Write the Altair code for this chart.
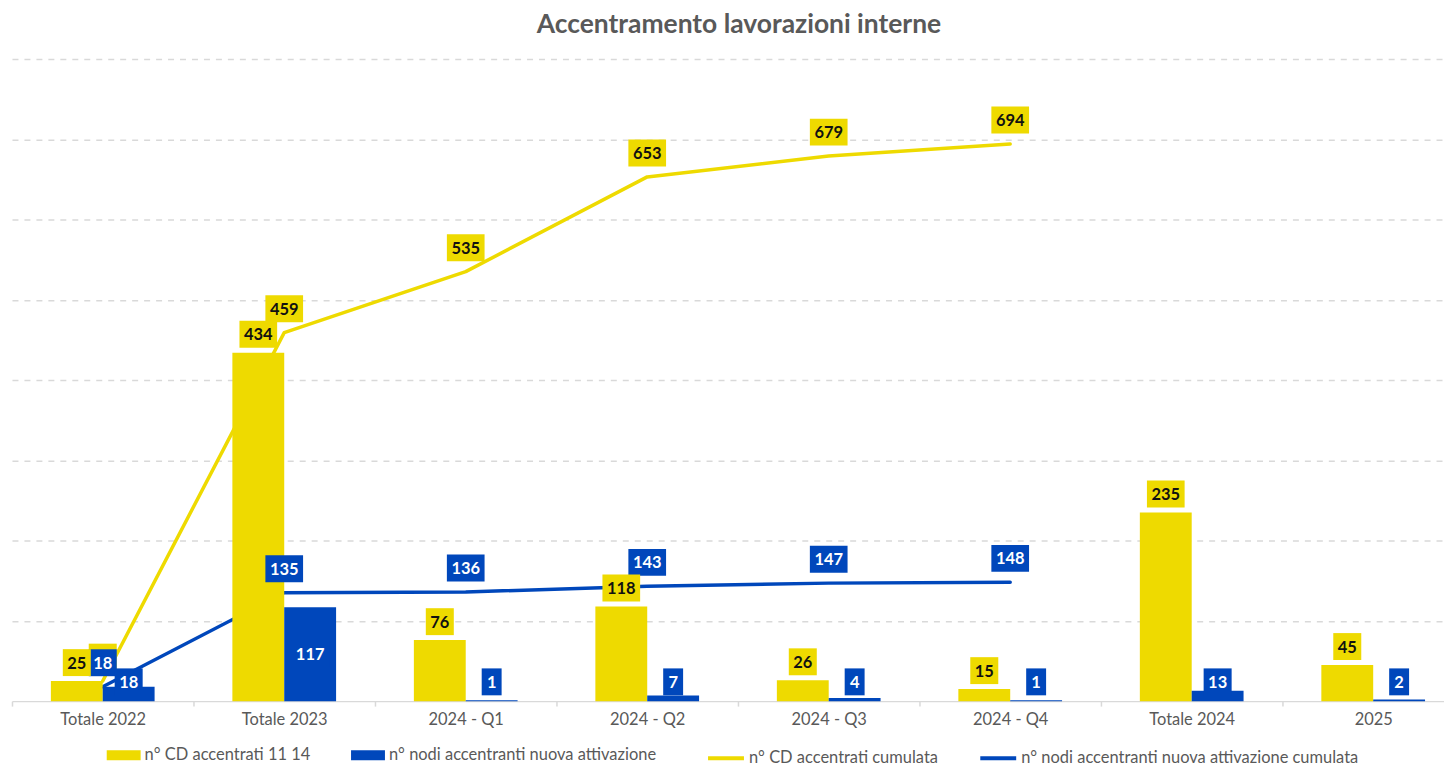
import altair as alt
import pandas as pd

# ---------------- data ----------------
categories = ["Totale 2022", "Totale 2023", "2024 - Q1", "2024 - Q2",
              "2024 - Q3", "2024 - Q4", "Totale 2024", "2025"]
cd_accentrati = [25, 434, 76, 118, 26, 15, 235, 45]
nodi_nuovi = [18, 117, 1, 7, 4, 1, 13, 2]
cd_cumulata = [25, 459, 535, 653, 679, 694, None, None]
nodi_cumulata = [18, 135, 136, 143, 147, 148, None, None]

S_BAR1 = "n° CD accentrati 11 14"
S_BAR2 = "n° nodi accentranti nuova attivazione"
S_LIN1 = "n° CD accentrati cumulata"
S_LIN2 = "n° nodi accentranti nuova attivazione cumulata"
bar_series = [S_BAR1, S_BAR2]
line_series = [S_LIN1, S_LIN2]

YEL = "#EEDA00"
BLU = "#0047BB"
GRAY = "#595959"
FONT = "Lato"


def long_df(values, series):
    rows = [{"cat": c, "series": series, "value": v}
            for c, v in zip(categories, values) if v is not None]
    return pd.DataFrame(rows)


bar1 = long_df(cd_accentrati, S_BAR1)
bar2 = long_df(nodi_nuovi, S_BAR2)
bars_df = pd.concat([bar1, bar2], ignore_index=True)
lin1 = long_df(cd_cumulata, S_LIN1)
lin2 = long_df(nodi_cumulata, S_LIN2)
lines_df = pd.concat([lin1, lin2], ignore_index=True)

# ---------------- scales / axes ----------------
xscale = alt.Scale(domain=categories, range=[0, 1456], paddingInner=0, paddingOuter=0)
yscale = alt.Scale(domain=[0, 800], nice=False)
xoff_scale = alt.Scale(domain=bar_series, paddingInner=0, paddingOuter=0.75)

xaxis = alt.Axis(title=None, labelFont=FONT, labelFontSize=16.5, labelColor=GRAY,
                 labelAngle=0, labelPadding=5, domainColor="#d9d9d9", domainWidth=1.5,
                 tickColor="#d9d9d9", tickWidth=1.5, tickSize=5, tickBand="extent",
                 grid=False)
yaxis = alt.Axis(title=None, labels=False, ticks=False, domain=False, grid=True,
                 gridDash=[6, 6], gridColor="#d9d9d9", gridWidth=1.5,
                 values=[100, 200, 300, 400, 500, 600, 700, 800])

X = alt.X("cat:N", sort=categories, scale=xscale, axis=xaxis)

# ---------------- layers ----------------
lines = alt.Chart(lines_df).mark_line(strokeWidth=3.5, strokeCap="round",
                                      strokeJoin="round").encode(
    x=X,
    y=alt.Y("value:Q", scale=yscale, axis=yaxis),
    stroke=alt.Stroke("series:N", scale=alt.Scale(domain=line_series, range=[YEL, BLU]),
                      legend=alt.Legend(title=None, orient="none", legendX=696, legendY=681,
                                        direction="horizontal", symbolType="stroke",
                                        symbolSize=1296, symbolStrokeWidth=4,
                                        labelFont=FONT, labelFontSize=16.5, labelColor=GRAY,
                                        labelLimit=0, labelOffset=3, columnPadding=34,
                                        padding=0)),
)

bars = alt.Chart(bars_df).mark_bar().encode(
    x=X,
    xOffset=alt.XOffset("series:N", scale=xoff_scale),
    y=alt.Y("value:Q", scale=yscale, axis=yaxis),
    color=alt.Color("series:N", scale=alt.Scale(domain=bar_series, range=[YEL, BLU]),
                    legend=alt.Legend(title=None, orient="none", legendX=95, legendY=681,
                                      direction="horizontal",
                                      symbolType="M-1,-0.3L1,-0.3L1,0.3L-1,0.3Z",
                                      symbolSize=1156, symbolStrokeWidth=0, symbolOpacity=1,
                                      labelFont=FONT, labelFontSize=16.5, labelColor=GRAY,
                                      labelLimit=0, labelOffset=4, columnPadding=40,
                                      padding=0)),
)

P1 = "M-0.74,-1L0.74,-1L0.74,1L-0.74,1Z"
P2 = "M-1.04,-1L1.04,-1L1.04,1L-1.04,1Z"
P3 = "M-1.4,-1L1.4,-1L1.4,1L-1.4,1Z"
shape_scale = alt.Scale(domain=["d1", "d2", "d3"], range=[P1, P2, P3])


def labels(df, box_color, text_color, y_expr, yoff, offset):
    base = alt.Chart(df).transform_calculate(
        nd="'d' + toString(length(toString(datum.value)))", ly=y_expr)
    enc = dict(x=X, y=alt.Y("ly:Q", scale=yscale, axis=yaxis))
    if offset:
        enc["xOffset"] = alt.XOffset("series:N", scale=xoff_scale)
    box = base.mark_point(filled=True, opacity=1, size=729, color=box_color,
                          strokeWidth=0, yOffset=yoff).encode(
        shape=alt.Shape("nd:N", scale=shape_scale, legend=None), **enc)
    txt = base.mark_text(font=FONT, fontSize=16.5, fontWeight="bold", color=text_color,
                         baseline="middle", yOffset=yoff + 1).encode(
        text=alt.Text("value:Q"), **enc)
    return [box, txt]


layers = [lines, bars]
layers += labels(lin1, YEL, "#111111", "datum.value", -24, False)
layers += labels(lin2, BLU, "#ffffff", "datum.value", -24, False)
layers += labels(bar1, YEL, "#111111", "datum.value", -18.5, True)
layers += labels(bar2, BLU, "#ffffff", "max(datum.value / 2, 24)", 0, True)

chart = alt.layer(*layers).properties(
    width=1432,
    height=644,
    background="white",
    autosize=alt.AutoSizeParams(type="none"),
    padding={"left": 4, "top": 50, "right": 4, "bottom": 65},
    title=alt.TitleParams("Accentramento lavorazioni interne", font=FONT, fontSize=26.5,
                          fontWeight="bold", color=GRAY, anchor="middle", frame="group",
                          baseline="alphabetic", offset=-1, dx=13),
).configure_view(stroke=None)

chart.save("out.html", embed_options={"renderer": "svg", "actions": False})
